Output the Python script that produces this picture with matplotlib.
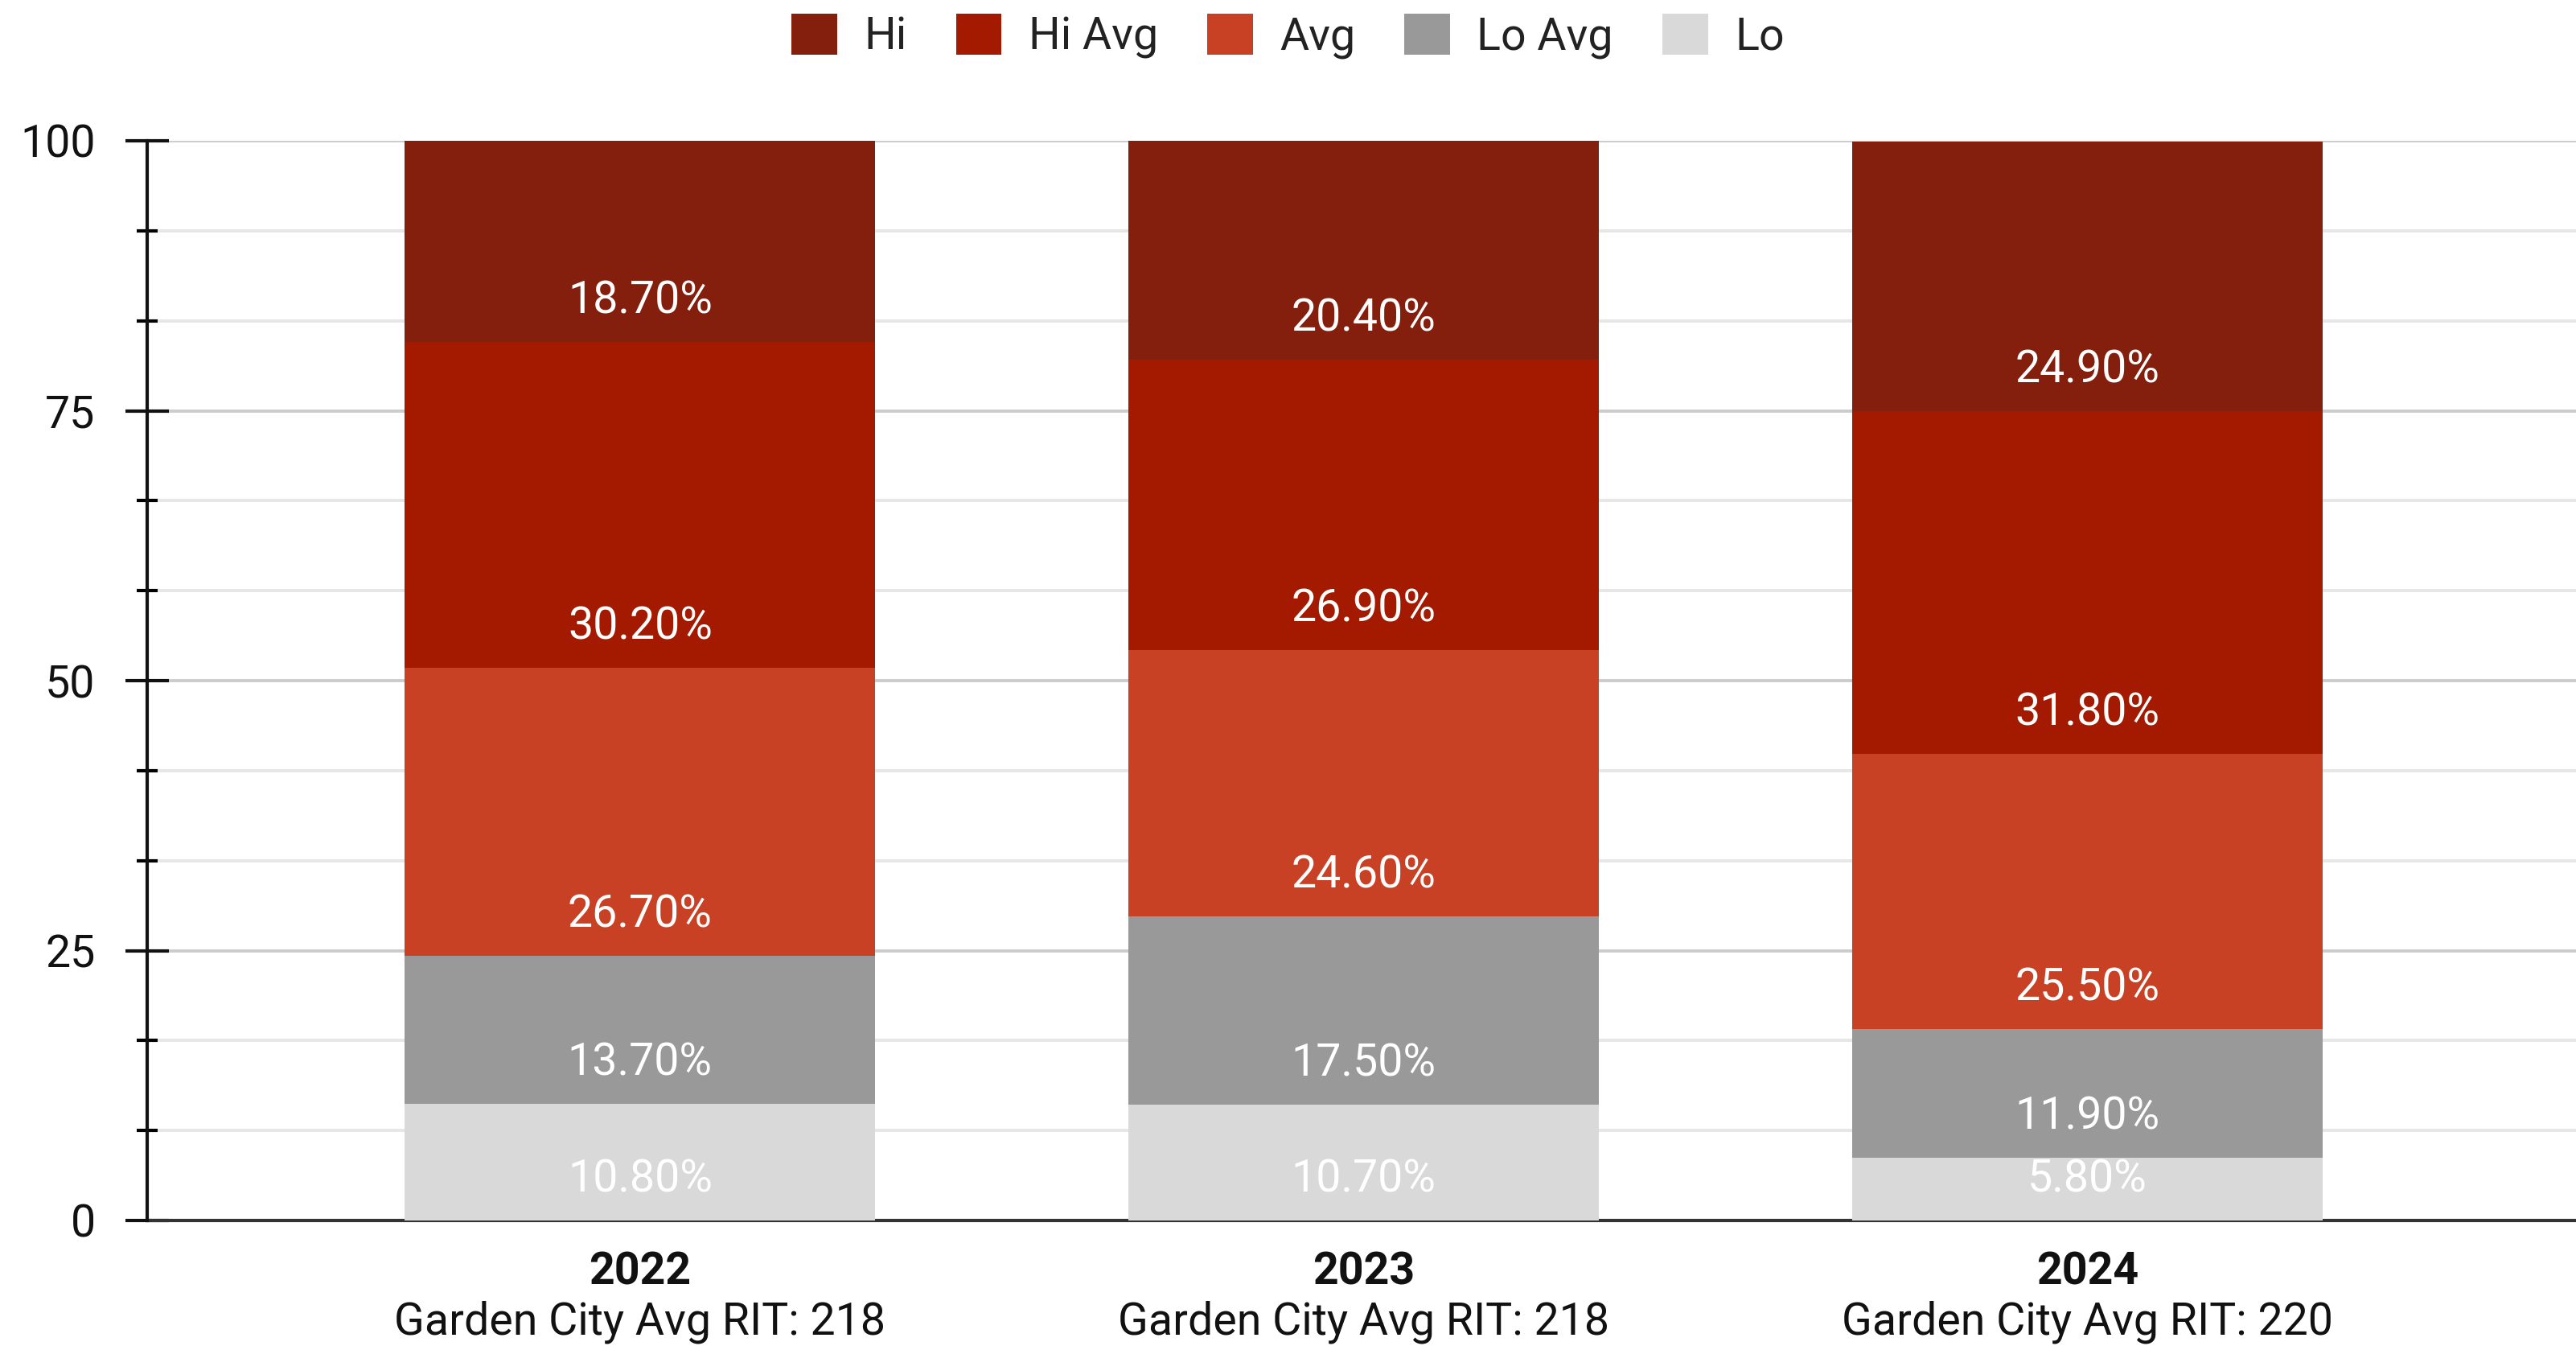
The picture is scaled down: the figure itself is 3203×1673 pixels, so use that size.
import matplotlib
matplotlib.use("Agg")
import matplotlib.pyplot as plt
from matplotlib.ticker import MultipleLocator
from matplotlib.patches import Patch
import numpy as np

plt.rcParams['font.family'] = ['Roboto', 'DejaVu Sans']

years = ["2022", "2023", "2024"]
subtitles = ["Garden City Avg RIT: 218", "Garden City Avg RIT: 218", "Garden City Avg RIT: 220"]
series_names = ["Lo", "Lo Avg", "Avg", "Hi Avg", "Hi"]
lo = [10.8, 10.7, 5.8]
lo_avg = [13.7, 17.5, 11.9]
avg = [26.7, 24.6, 25.5]
hi_avg = [30.2, 26.9, 31.8]
hi = [18.7, 20.4, 24.9]
series_values = [lo, lo_avg, avg, hi_avg, hi]
colors = ["#d9d9d9", "#999999", "#c94125", "#a31a00", "#841f0d"]
yticks = [0, 25, 50, 75, 100]

FS = 20
fig = plt.figure(figsize=(3203/200, 1673/200), dpi=200)
ax = fig.add_axes([183/3203, 1 - 1517/1673, 1 - 183/3203, (1517 - 175)/1673])

x = np.arange(len(years))
bottom = np.zeros(len(years))
for name, vals, col in zip(series_names, series_values, colors):
    vals = np.array(vals)
    ax.bar(x, vals, bottom=bottom, width=0.65, color=col, label=name, zorder=3, linewidth=0)
    for xi, bi, vi in zip(x, bottom, vals):
        ax.text(xi, bi + 3.8, f"{vi:.2f}%", ha="center", va="center", color="white",
                fontsize=FS, zorder=5)
    bottom = bottom + vals

ax.set_xlim(-0.681, 2.675)
ax.set_ylim(0, 100)

ax.yaxis.set_major_locator(MultipleLocator(25))
ax.yaxis.set_minor_locator(MultipleLocator(100/12))
ax.grid(axis="y", which="major", color="#cccccc", linewidth=1.4, zorder=0)
ax.grid(axis="y", which="minor", color="#e6e6e6", linewidth=1.4, zorder=0)
ax.tick_params(axis="y", which="major", direction="inout", length=19.4, width=1.5,
               pad=13.5, labelsize=FS, colors="#111111")
ax.tick_params(axis="y", which="minor", direction="inout", length=9.4, width=1.5)
ax.set_yticks(yticks)
ax.set_yticklabels([str(t) for t in yticks])

for s in ["top", "right"]:
    ax.spines[s].set_visible(False)
ax.spines["left"].set_linewidth(1.5)
ax.spines["left"].set_color("#111111")
ax.spines["bottom"].set_linewidth(1.5)
ax.spines["bottom"].set_color("#333333")
ax.spines["bottom"].set_zorder(2)

ax.set_xticks(x)
ax.set_xticklabels([""] * len(years))
ax.tick_params(axis="x", length=0)
for xi, yr, sub in zip(x, years, subtitles):
    ax.annotate(yr, xy=(xi, 0), xycoords=("data", "axes fraction"), xytext=(0, -23.3),
                textcoords="offset points", ha="center", va="center", fontsize=FS,
                fontweight="bold", color="#111111")
    ax.annotate(sub, xy=(xi, 0), xycoords=("data", "axes fraction"), xytext=(0, -45.3),
                textcoords="offset points", ha="center", va="center", fontsize=FS,
                color="#111111")

handles = [Patch(facecolor=c, edgecolor="none", label=n) for n, c in zip(series_names, colors)]
order = [4, 3, 2, 1, 0]
leg = fig.legend([handles[i] for i in order], [series_names[i] for i in order],
                 loc="center", bbox_to_anchor=(0.5, 1 - 45/1673), ncol=5, frameon=False,
                 fontsize=FS, handlelength=1.02, handleheight=1.02, handletextpad=0.6,
                 columnspacing=1.1, borderaxespad=0)
for t in leg.get_texts():
    t.set_color("#222222")

fig.savefig("out.png", dpi=200)
